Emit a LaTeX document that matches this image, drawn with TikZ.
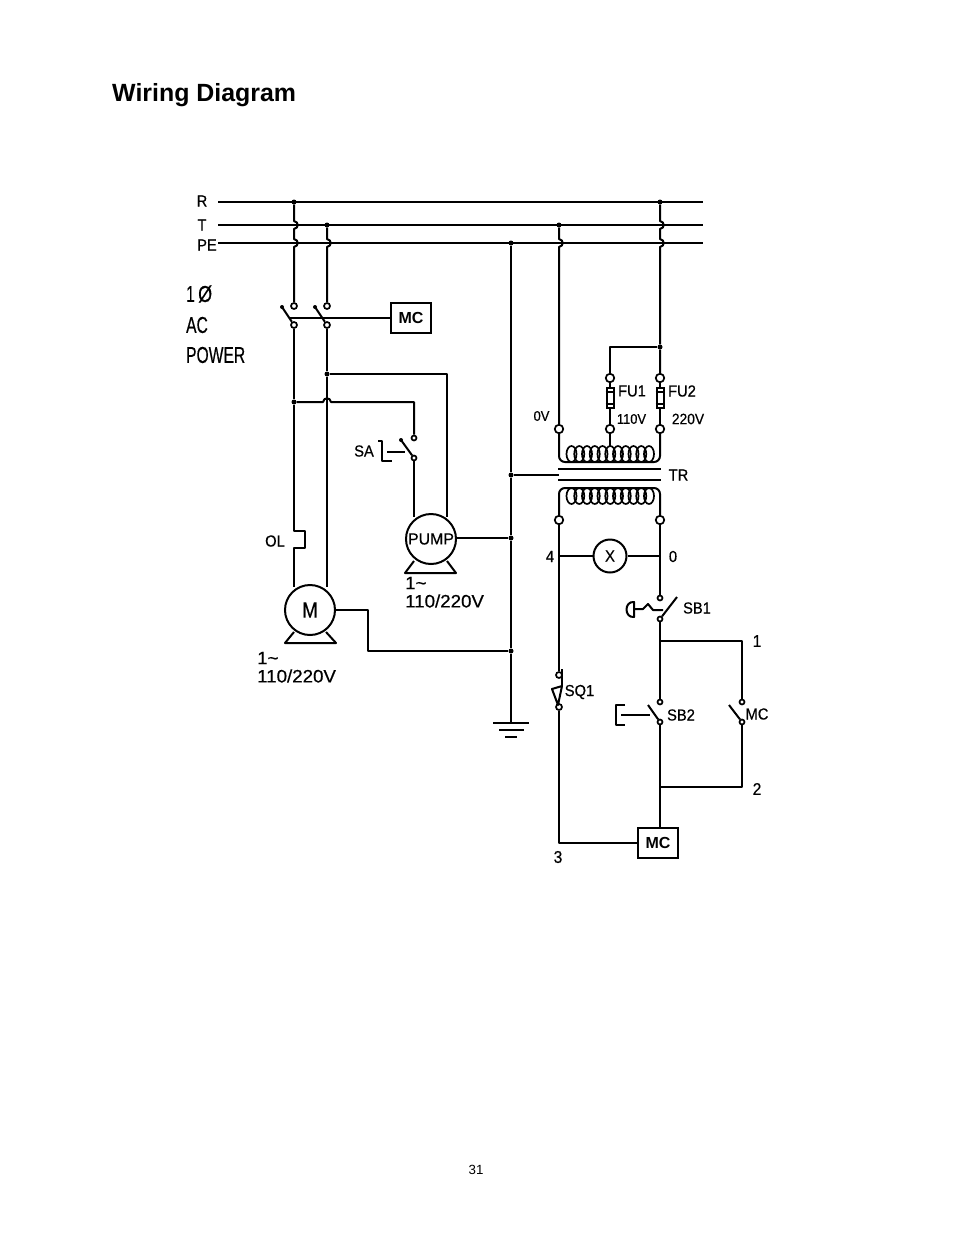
\documentclass[tikz,border=0pt]{standalone}
\usepackage{fontspec}
\setmainfont{Liberation Sans}
\newfontface\cad[FakeBold=0.5]{Liberation Sans}
\usetikzlibrary{calc}
\tikzset{
  wire/.style={line width=2pt,line join=round},
  thin wire/.style={line width=2pt,line join=round},
  term/.style={circle,draw,line width=1.7pt,fill=white,inner sep=0pt,minimum size=6pt},
  bigterm/.style={circle,draw,line width=1.7pt,fill=white,inner sep=0pt,minimum size=8.5pt},
  dotn/.style={circle,fill=black,inner sep=0pt,minimum size=5pt},
  box/.style={draw,line width=2pt,fill=white,minimum width=40pt,minimum height=30pt,inner sep=0pt,font=\fontsize{16}{18}\selectfont\bfseries},
  lab/.style={inner sep=0pt,font=\fontsize{16}{18}\cad,transform shape,xscale=.92},
  biglab/.style={inner sep=0pt,font=\fontsize{18}{20}\cad,transform shape,xscale=1.04},
  tall/.style={inner sep=0pt,font=\fontsize{23}{26}\cad,transform shape,xscale=.68},
  motor/.style={circle,draw,line width=2pt,fill=white,inner sep=0pt,minimum size=50pt},
  fuse/.style={draw,line width=2pt,fill=white,minimum width=7pt,minimum height=20pt,inner sep=0pt},
}
\newcommand{\hopv}[1]{-- ([yshift=4]#1) .. controls ([xshift=5,yshift=3]#1) and ([xshift=5,yshift=-3]#1) .. ([yshift=-4]#1)}
\newcommand{\hoph}[1]{-- ([xshift=-4]#1) .. controls ([xshift=-3,yshift=5]#1) and ([xshift=3,yshift=5]#1) .. ([xshift=4]#1)}
\begin{document}
\begin{tikzpicture}[x=1pt,y=-1pt]
\useasboundingbox (0,0) rectangle (954,1235);
\fill[white] (0,0) rectangle (954,1235);
\node[anchor=west,inner sep=0pt,font=\fontsize{24.9}{28}\selectfont\bfseries] (title) at (112,95.5) {Wiring Diagram};
\node[inner sep=0pt,font=\fontsize{13.3}{15}\selectfont] (page) at (476,1170) {31};

% buses
\node[lab] (lR) at (202,201) {R};
\node[lab] (lT) at (202,225) {T};
\node[lab] (lPE) at (207,245) {PE};
\coordinate (Rs) at (218,202); \coordinate (Re) at (703,202);
\coordinate (Ts) at (218,225); \coordinate (Te) at (703,225);
\coordinate (Ps) at (218,243); \coordinate (Pe) at (703,243);
\node[dotn] (d1) at (294,202) {};
\node[dotn] (d2) at (327,225) {};
\node[dotn] (d3) at (559,225) {};
\node[dotn] (d4) at (660,202) {};
\node[dotn] (d5) at (511,243) {};
\draw[wire] (Rs) -- (Re);
\draw[wire] (Ts) -- (Te);
\draw[wire] (Ps) -- (Pe);
\coordinate (h1a) at (294,225); \coordinate (h1b) at (294,243);
\coordinate (h2) at (327,243); \coordinate (h3) at (559,243);
\coordinate (h4a) at (660,225); \coordinate (h4b) at (660,243);

% power labels
\node[tall,anchor=west] (l1ph) at (186,294) {1};
\node[tall,anchor=west,xscale=1.15] (lphi) at (198,294) {\bfseries Ø};
\node[tall,anchor=west] (lac) at (186,325) {AC};
\node[tall,anchor=west] (lpow) at (186,355) {POWER};

% main contactor
\node[term] (a1) at (294,306) {};
\node[term] (a2) at (294,325) {};
\node[term] (b1) at (327,306) {};
\node[term] (b2) at (327,325) {};
\coordinate (bl1) at (282,307); \coordinate (bl2) at (315,307);
\draw[wire] (bl1) -- (a2); \draw[wire] (bl2) -- (b2);
\node[dotn,minimum size=4pt] (bd1) at (bl1) {};
\node[dotn,minimum size=4pt] (bd2) at (bl2) {};
\node[box] (mc1) at (411,318) {MC};
\coordinate (lk) at (289,318);
\draw[thin wire] (lk) -- (mc1);
\draw[wire] (d1) \hopv{h1a} \hopv{h1b} -- (a1);
\draw[wire] (d2) \hopv{h2} -- (b1);

% motor
\node[motor] (M) at (310,610) {};
\node[inner sep=0pt,font=\fontsize{22}{24}\cad,transform shape,xscale=.85] (Mt) at (310,610) {M};
\coordinate (Mf1) at (285,643); \coordinate (Mf2) at (336,643);
\coordinate (Mu1) at (294,632); \coordinate (Mu2) at (326,632);
\draw[wire] (Mu1) -- (Mf1) -- (Mf2) -- (Mu2);
\node[biglab,anchor=west] (M1) at (257,658) {1\textasciitilde};
\node[biglab,anchor=west] (Mv) at (257,676) {110/220V};
\node[dotn] (n1) at (294,402) {};
\node[dotn] (n2) at (327,374) {};
\coordinate (ol1) at (294,531); \coordinate (ol2) at (305,531);
\coordinate (ol3) at (305,548); \coordinate (ol4) at (294,548);
\coordinate (Mw1) at (294,587); \coordinate (Mw2) at (327,587);
\draw[wire] (a2) -- (n1) -- (ol1) -- (ol2) -- (ol3) -- (ol4) -- (Mw1);
\draw[wire] (b2) -- (n2) -- (Mw2);
\node[lab] (OL) at (275,541) {OL};

% selector and pump
\node[motor] (P) at (431,539) {};
\node[lab,xscale=1.08] (Pt) at (431,539) {PUMP};
\coordinate (Pf1) at (405,573); \coordinate (Pf2) at (456,573);
\coordinate (Pu1) at (414,561); \coordinate (Pu2) at (447,561);
\draw[wire] (Pu1) -- (Pf1) -- (Pf2) -- (Pu2);
\node[biglab,anchor=west] (P1) at (405,583) {1\textasciitilde};
\node[biglab,anchor=west] (Pv) at (405,601) {110/220V};
\node[term,minimum size=5pt] (s1) at (414,438) {};
\node[term,minimum size=5pt] (s2) at (414,458) {};
\coordinate (sb) at (401,440);
\draw[wire] (sb) -- (s2);
\node[dotn,minimum size=4pt] (sbd) at (sb) {};
\coordinate (sl1) at (387,452); \coordinate (sl2) at (405,452);
\draw[thin wire] (sl1) -- (sl2);
\coordinate (sq1) at (378,441); \coordinate (sq2) at (382,441);
\coordinate (sq3) at (382,461); \coordinate (sq4) at (392,461);
\draw[thin wire] (sq1) -- (sq2) -- (sq3) -- (sq4);
\node[lab] (SA) at (364,451) {SA};
\coordinate (hs) at (327,402);
\coordinate (c1) at (414,402);
\draw[wire] (n1) \hoph{hs} -- (c1) -- (s1);
\coordinate (Pw1) at (414,517); \coordinate (Pw2) at (447,517);
\coordinate (c2) at (447,374);
\draw[wire] (s2) -- (Pw1);
\draw[wire] (n2) -- (c2) -- (Pw2);

% earth
\node[dotn] (e1) at (511,475) {};
\node[dotn] (e2) at (511,538) {};
\node[dotn] (e3) at (511,651) {};
\coordinate (gnd) at (511,723);
\draw[wire] (d5) -- (e1) -- (e2) -- (e3) -- (gnd);
\coordinate (e2l) at (456,538);
\draw[wire] (e2l) -- (e2);
\coordinate (Mg1) at (368,610); \coordinate (Mg2) at (368,651);
\draw[wire] (M) -- (Mg1) -- (Mg2) -- (e3);
\coordinate (g1) at (493,723); \coordinate (g2) at (529,723);
\coordinate (g3) at (499,730); \coordinate (g4) at (524,730);
\coordinate (g5) at (505,737); \coordinate (g6) at (517,737);
\draw[wire] (g1) -- (g2); \draw[wire] (g3) -- (g4); \draw[wire] (g5) -- (g6);

% transformer
\node[bigterm] (t0) at (559,429) {};
\node[bigterm] (t1) at (610,429) {};
\node[bigterm] (t2) at (660,429) {};
\node[bigterm] (f1t) at (610,378) {};
\node[bigterm] (f2t) at (660,378) {};
\node[dotn] (n3) at (660,347) {};
\coordinate (n3l) at (610,347);
\draw[wire] (d3) \hopv{h3} -- (t0);
\draw[wire] (d4) \hopv{h4a} \hopv{h4b} -- (n3) -- (f2t);
\draw[wire] (n3) -- (n3l) -- (f1t);
\draw[thin wire] (f1t) -- (t1);
\draw[thin wire] (f2t) -- (t2);
\node[fuse] (F1) at (610,398) {};
\node[fuse] (F2) at (660,398) {};
\foreach \f in {F1,F2}{
  \draw[line width=1.5pt] ([yshift=-5]\f.north west) -- ([yshift=-5]\f.north east);
  \draw[line width=1.5pt] ([yshift=5]\f.south west) -- ([yshift=5]\f.south east);
}
\coordinate (cp0) at (559,462); \coordinate (cp2) at (660,462);
\coordinate (ct1) at (610,446);
\draw[wire] (t1) -- (ct1);
\draw[thin wire,rounded corners=6pt] (t0) -- (cp0) -- (cp2) -- (t2);
\foreach \i in {0,...,10}{
  \draw[line width=1.7pt] (571.5+7.75*\i,454) ellipse [x radius=5,y radius=8];
  \draw[line width=1.7pt] (571.5+7.75*\i,496) ellipse [x radius=5,y radius=8];
}
\coordinate (k1) at (558,469); \coordinate (k2) at (661,469);
\coordinate (k3) at (558,480); \coordinate (k4) at (661,480);
\draw[thin wire] (k1) -- (k2); \draw[thin wire] (k3) -- (k4);
\coordinate (e1r) at (559,475);
\draw[thin wire] (e1) -- (e1r);
\node[bigterm] (t3) at (559,520) {};
\node[bigterm] (t4) at (660,520) {};
\coordinate (cs0) at (559,488); \coordinate (cs2) at (660,488);
\draw[thin wire,rounded corners=6pt] (t3) -- (cs0) -- (cs2) -- (t4);
\node[lab] (lFU1) at (632,391) {FU1};
\node[lab] (lFU2) at (682,391) {FU2};
\node[lab,font=\fontsize{14}{16}\cad] (l110) at (631.5,419) {110V};
\node[lab,font=\fontsize{15}{16}\cad] (l220) at (688,419) {220V};
\node[lab,font=\fontsize{14}{16}\cad] (l0V) at (541.5,416) {0V};
\node[lab] (lTR) at (678.5,475) {TR};

% control circuit
\node[circle,draw,line width=2pt,fill=white,inner sep=0pt,minimum size=33pt] (X) at (610,556) {};
\node[lab] (Xt) at (610,556) {X};
\coordinate (j4) at (559,556); \coordinate (j0) at (660,556);
\draw[thin wire] (j4) -- (X) -- (j0);
\node[lab] (l4) at (550,556.5) {4};
\node[lab] (l0) at (673,556.5) {0};
\node[term,minimum size=5pt] (sb1a) at (660,598) {};
\node[term,minimum size=5pt] (sb1b) at (660,619) {};
\coordinate (bb1) at (677,597);
\draw[wire] (sb1b) -- (bb1);
\draw[wire] (t4) -- (sb1a);
\coordinate (mh1) at (634,602); \coordinate (mh2) at (634,617);
\coordinate (mh3) at (634,609);
\coordinate (tl1) at (643,609); \coordinate (tl2) at (648,604);
\coordinate (tl3) at (653,610); \coordinate (tl4) at (663,610);
\draw[thin wire] (mh1) .. controls (624,601) and (624,618) .. (mh2) -- cycle;
\draw[thin wire] (mh3) -- (tl1) -- (tl2) -- (tl3) -- (tl4);
\node[lab] (lSB1) at (697,608) {SB1};
\node[term,minimum size=5pt] (sb2a) at (660,702) {};
\node[term,minimum size=5pt] (sb2b) at (660,722) {};
\node[term,minimum size=5pt] (mca) at (742,702) {};
\node[term,minimum size=5pt] (mcb) at (742,722) {};
\coordinate (j1) at (660,641); \coordinate (j1r) at (742,641);
\coordinate (j2) at (660,787); \coordinate (j2r) at (742,787);
\draw[wire] (sb1b) -- (j1) -- (sb2a);
\draw[thin wire] (j1) -- (j1r) -- (mca);
\draw[wire] (sb2b) -- (j2);
\draw[thin wire] (mcb) -- (j2r) -- (j2);
\coordinate (bb2) at (648,705); \coordinate (bb3) at (729,705);
\draw[wire] (bb2) -- (sb2b); \draw[wire] (bb3) -- (mcb);
\coordinate (sbl1) at (621,715); \coordinate (sbl2) at (650,715);
\draw[thin wire] (sbl1) -- (sbl2);
\coordinate (br1) at (625,705); \coordinate (br2) at (616,705);
\coordinate (br3) at (616,725); \coordinate (br4) at (625,725);
\draw[thin wire] (br1) -- (br2) -- (br3) -- (br4);
\node[lab] (lSB2) at (681,715) {SB2};
\node[lab] (lMC) at (757,714) {MC};
\node[lab,font=\fontsize{17}{18}\cad] (l1) at (757,641) {1};
\node[lab,font=\fontsize{17}{18}\cad] (l2) at (757,789) {2};
\node[box] (mc2) at (658,843) {MC};
\coordinate (mc2t) at (660,828);
\draw[wire] (j2) -- (mc2t);
\node[term] (q1) at (559,675) {};
\node[term] (q2) at (559,707) {};
\coordinate (q3) at (559,843);
\draw[wire] (t3) -- (q1);
\draw[wire] (q2) -- (q3) -- (mc2);
\coordinate (q8) at (562,669);
\coordinate (q4) at (562,686); \coordinate (q5) at (558,705);
\coordinate (q6) at (552,689);
\draw[thin wire] (q8) -- (q4);
\draw[thin wire] (q4) -- (q5) -- (q6) -- cycle;
\node[lab] (lSQ1) at (579.5,692) {SQ1};
\node[lab,font=\fontsize{17}{18}\cad] (l3) at (558,857) {3};
\end{tikzpicture}
\end{document}
